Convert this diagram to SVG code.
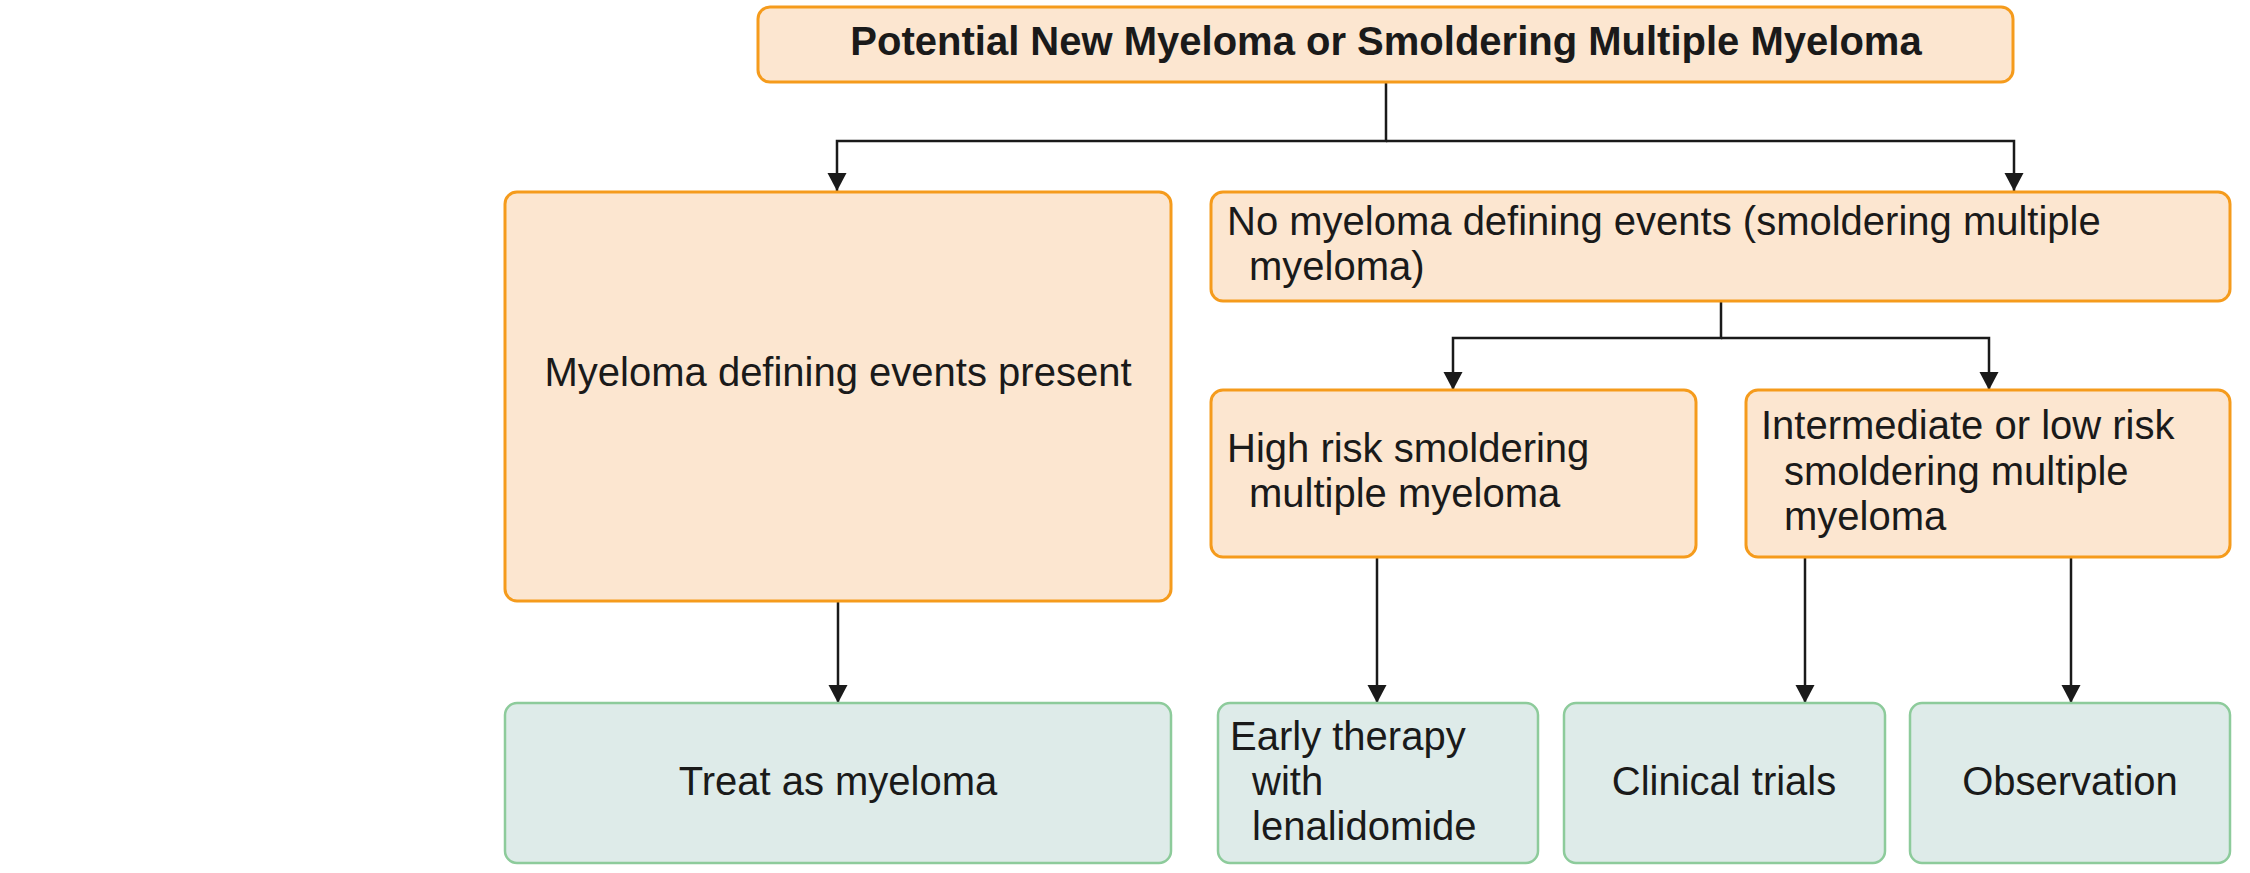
<svg xmlns="http://www.w3.org/2000/svg" width="2250" height="873" viewBox="0 0 2250 873">
<style>
.o{fill:#FCE6D0;stroke:#F59B1C;stroke-width:3}
.g{fill:#DEEBE9;stroke:#8DCB9B;stroke-width:2.5}
.t{font-family:"Liberation Sans",Arial,sans-serif;font-size:40px;fill:#1a1a1a}
.b{font-weight:bold}
.c{text-anchor:middle}
.k{fill:none;stroke:#1a1a1a;stroke-width:2.5}
</style>
<defs>
<marker id="ah" markerUnits="userSpaceOnUse" markerWidth="20" markerHeight="20" refX="18" refY="10" orient="auto">
<path d="M0,0.5 L18,10 L0,19.5 Z" fill="#1a1a1a"/>
</marker>
</defs>
<rect width="2250" height="873" fill="#ffffff"/>
<g id="connectors">
<path class="k" d="M1386 82 V141 H837 V191" marker-end="url(#ah)"/>
<path class="k" d="M1386 141 H2014 V191" marker-end="url(#ah)"/>
<path class="k" d="M1721 301 V338 H1453 V390" marker-end="url(#ah)"/>
<path class="k" d="M1721 338 H1989 V390" marker-end="url(#ah)"/>
<path class="k" d="M838 601 V703" marker-end="url(#ah)"/>
<path class="k" d="M1377 557 V703" marker-end="url(#ah)"/>
<path class="k" d="M1805 557 V703" marker-end="url(#ah)"/>
<path class="k" d="M2071 557 V703" marker-end="url(#ah)"/>
</g>
<g id="top">
<rect class="o" x="758" y="7" width="1255" height="75" rx="12"/>
<text class="t b c" x="1386" y="55">Potential New Myeloma or Smoldering Multiple Myeloma</text>
</g>
<g id="present">
<rect class="o" x="505" y="192" width="666" height="409" rx="12"/>
<text class="t c" x="838" y="386">Myeloma defining events present</text>
</g>
<g id="none">
<rect class="o" x="1211" y="192" width="1019" height="109" rx="12"/>
<text class="t" x="1227" y="235">No myeloma defining events (smoldering multiple</text>
<text class="t" x="1249" y="280">myeloma)</text>
</g>
<g id="high">
<rect class="o" x="1211" y="390" width="485" height="167" rx="12"/>
<text class="t" x="1227" y="462">High risk smoldering</text>
<text class="t" x="1249" y="507">multiple myeloma</text>
</g>
<g id="inter">
<rect class="o" x="1746" y="390" width="484" height="167" rx="12"/>
<text class="t" x="1761" y="439">Intermediate or low risk</text>
<text class="t" x="1784" y="485">smoldering multiple</text>
<text class="t" x="1784" y="530">myeloma</text>
</g>
<g id="treat">
<rect class="g" x="505" y="703" width="666" height="160" rx="12"/>
<text class="t c" x="838" y="795">Treat as myeloma</text>
</g>
<g id="early">
<rect class="g" x="1218" y="703" width="320" height="160" rx="12"/>
<text class="t" x="1230" y="750">Early therapy</text>
<text class="t" x="1252" y="795">with</text>
<text class="t" x="1252" y="840">lenalidomide</text>
</g>
<g id="clinical">
<rect class="g" x="1564" y="703" width="321" height="160" rx="12"/>
<text class="t c" x="1724" y="795">Clinical trials</text>
</g>
<g id="observation">
<rect class="g" x="1910" y="703" width="320" height="160" rx="12"/>
<text class="t c" x="2070" y="795">Observation</text>
</g>
</svg>
